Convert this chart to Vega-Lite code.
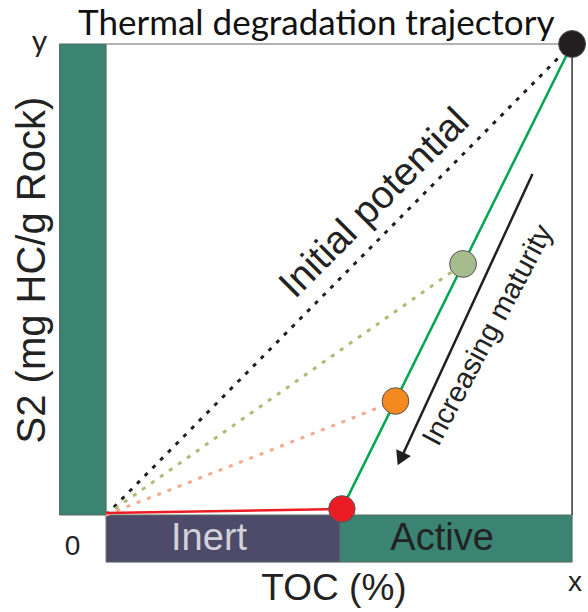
{
  "$schema": "https://vega.github.io/schema/vega-lite/v6.json",
  "width": 588,
  "height": 612,
  "autosize": {"type": "fit", "contains": "padding"},
  "padding": 0,
  "background": "white",
  "config": {"view": {"stroke": null}},
  "resolve": {"scale": {"color": "independent", "size": "independent"}},
  "datasets": {
    "regions": [
      {"region": "S2 bar", "x": -1.0, "x2": 0, "y": 0, "y2": 10},
      {"region": "Inert", "x": 0, "x2": 5.02, "y": -1.0, "y2": 0},
      {"region": "Active", "x": 5.02, "x2": 10, "y": -1.0, "y2": 0}
    ],
    "frame": [
      {"edge": "top", "x": 0, "y": 10, "x2": 10, "y2": 10},
      {"edge": "right", "x": 10, "y": 0, "x2": 10, "y2": 10}
    ],
    "paths": [
      {"path": "Initial potential", "x": 0, "y": 0, "x2": 10, "y2": 10},
      {"path": "Intermediate", "x": 0, "y": 0, "x2": 7.66, "y2": 5.33},
      {"path": "Early", "x": 0, "y": 0, "x2": 6.21, "y2": 2.42}
    ],
    "inert": [{"x": 0, "y": 0.04, "x2": 5.06, "y2": 0.13}],
    "trajectory": [{"x": 5.06, "y": 0.13, "x2": 10, "y2": 10}],
    "arrow": [{"x": 9.15, "y": 7.24, "x2": 6.36, "y2": 1.27}],
    "arrowhead": [{"x": 6.32, "y": 1.19}],
    "stages": [
      {"stage": "Immature", "x": 10, "y": 10},
      {"stage": "Intermediate", "x": 7.66, "y": 5.33},
      {"stage": "Early", "x": 6.21, "y": 2.42},
      {"stage": "Overmature", "x": 5.06, "y": 0.13}
    ],
    "labels": [
      {"label": "Thermal degradation trajectory", "x": 4.51, "y": 10.19},
      {"label": "y", "x": -1.43, "y": 10.02},
      {"label": "0", "x": -0.72, "y": -0.68},
      {"label": "x", "x": 10.06, "y": -1.44},
      {"label": "TOC (%)", "x": 4.89, "y": -1.8},
      {"label": "Inert", "x": 2.21, "y": -0.74},
      {"label": "Active", "x": 7.21, "y": -0.74},
      {"label": "S2 (mg HC/g Rock)", "x": -1.32, "y": 5.2},
      {"label": "Initial potential", "x": 5.76, "y": 6.62},
      {"label": "Increasing maturity", "x": 8.19, "y": 3.82}
    ]
  },
  "encoding": {
    "x": {"field": "x", "type": "quantitative", "axis": null, "scale": {"domain": [-2.2766, 10.234], "nice": false, "zero": false}},
    "y": {"field": "y", "type": "quantitative", "axis": null, "scale": {"domain": [-2.0594, 10.934], "nice": false, "zero": false}}
  },
  "layer": [
    {
      "data": {"name": "regions"},
      "mark": {"type": "rect", "stroke": "#5a6a66", "strokeWidth": 1},
      "encoding": {
        "x2": {"field": "x2"},
        "y2": {"field": "y2"},
        "color": {"field": "region", "type": "nominal", "legend": null,
          "scale": {"domain": ["S2 bar", "Inert", "Active"], "range": ["#3b8373", "#4e4a69", "#3b8373"]}}
      }
    },
    {
      "data": {"name": "frame"},
      "mark": {"type": "rule", "strokeWidth": 1.5},
      "encoding": {
        "x2": {"field": "x2"},
        "y2": {"field": "y2"},
        "color": {"field": "edge", "type": "nominal", "legend": null,
          "scale": {"domain": ["top", "right"], "range": ["#9a9a9a", "#333333"]}}
      }
    },
    {
      "data": {"name": "paths"},
      "mark": {"type": "rule", "strokeWidth": 3, "strokeDash": [4, 7]},
      "encoding": {
        "x2": {"field": "x2"},
        "y2": {"field": "y2"},
        "color": {"field": "path", "type": "nominal", "legend": null,
          "scale": {"domain": ["Initial potential", "Intermediate", "Early"], "range": ["#231f20", "#aabd72", "#f7a98e"]}}
      }
    },
    {
      "data": {"name": "inert"},
      "mark": {"type": "rule", "strokeWidth": 2.5, "color": "#ec1c24"},
      "encoding": {"x2": {"field": "x2"}, "y2": {"field": "y2"}}
    },
    {
      "data": {"name": "trajectory"},
      "mark": {"type": "rule", "strokeWidth": 2.5, "color": "#00a651"},
      "encoding": {"x2": {"field": "x2"}, "y2": {"field": "y2"}}
    },
    {
      "data": {"name": "arrow"},
      "mark": {"type": "rule", "strokeWidth": 2.5, "color": "#231f20"},
      "encoding": {"x2": {"field": "x2"}, "y2": {"field": "y2"}}
    },
    {
      "data": {"name": "arrowhead"},
      "mark": {"type": "point", "shape": "triangle-down", "filled": true, "color": "#231f20", "size": 260, "angle": 25, "opacity": 1},
      "encoding": {}
    },
    {
      "data": {"name": "stages"},
      "mark": {"type": "point", "filled": true, "stroke": "#555555", "strokeWidth": 1, "opacity": 1},
      "encoding": {
        "color": {"field": "stage", "type": "nominal", "legend": null,
          "scale": {"domain": ["Immature", "Intermediate", "Early", "Overmature"], "range": ["#231f20", "#a6bc8f", "#f28a20", "#ec1c24"]}},
        "size": {"field": "stage", "type": "nominal", "legend": null,
          "scale": {"domain": ["Immature", "Intermediate", "Early", "Overmature"], "range": [729, 700, 690, 690]}},
        "stroke": {"value": "#555555"}
      }
    },
    {
      "data": {"name": "labels"},
      "transform": [{"filter": "datum.label === 'Thermal degradation trajectory'"}],
      "mark": {"type": "text", "font": "Lato", "fontSize": 35, "color": "#111111", "align": "center", "baseline": "alphabetic"},
      "encoding": {"text": {"field": "label"}}
    },
    {
      "data": {"name": "labels"},
      "transform": [{"filter": "datum.label === 'y'"}],
      "mark": {"type": "text", "font": "Lato", "fontSize": 30, "color": "#222222", "align": "center", "baseline": "middle"},
      "encoding": {"text": {"field": "label"}}
    },
    {
      "data": {"name": "labels"},
      "transform": [{"filter": "datum.label === '0' || datum.label === 'x'"}],
      "mark": {"type": "text", "font": "Liberation Sans", "fontSize": 28, "color": "#222222", "align": "center", "baseline": "middle"},
      "encoding": {"text": {"field": "label"}}
    },
    {
      "data": {"name": "labels"},
      "transform": [{"filter": "datum.label === 'TOC (%)'"}],
      "mark": {"type": "text", "font": "Liberation Sans", "fontSize": 37, "color": "#222222", "align": "center", "baseline": "alphabetic"},
      "encoding": {"text": {"field": "label"}}
    },
    {
      "data": {"name": "labels"},
      "transform": [{"filter": "datum.label === 'Inert'"}],
      "mark": {"type": "text", "font": "Liberation Sans", "fontSize": 38, "color": "#d2d2da", "align": "center", "baseline": "alphabetic"},
      "encoding": {"text": {"field": "label"}}
    },
    {
      "data": {"name": "labels"},
      "transform": [{"filter": "datum.label === 'Active'"}],
      "mark": {"type": "text", "font": "Liberation Sans", "fontSize": 38, "color": "#222222", "align": "center", "baseline": "alphabetic"},
      "encoding": {"text": {"field": "label"}}
    },
    {
      "data": {"name": "labels"},
      "transform": [{"filter": "datum.label === 'S2 (mg HC/g Rock)'"}],
      "mark": {"type": "text", "font": "Liberation Sans", "fontSize": 40, "color": "#222222", "align": "center", "baseline": "alphabetic", "angle": 270},
      "encoding": {"text": {"field": "label"}}
    },
    {
      "data": {"name": "labels"},
      "transform": [{"filter": "datum.label === 'Initial potential'"}],
      "mark": {"type": "text", "font": "Liberation Sans", "fontSize": 39, "color": "#222222", "align": "center", "baseline": "middle", "angle": 315},
      "encoding": {"text": {"field": "label"}}
    },
    {
      "data": {"name": "labels"},
      "transform": [{"filter": "datum.label === 'Increasing maturity'"}],
      "mark": {"type": "text", "font": "Liberation Sans", "fontSize": 29, "color": "#222222", "align": "center", "baseline": "middle", "angle": 298},
      "encoding": {"text": {"field": "label"}}
    }
  ]
}
